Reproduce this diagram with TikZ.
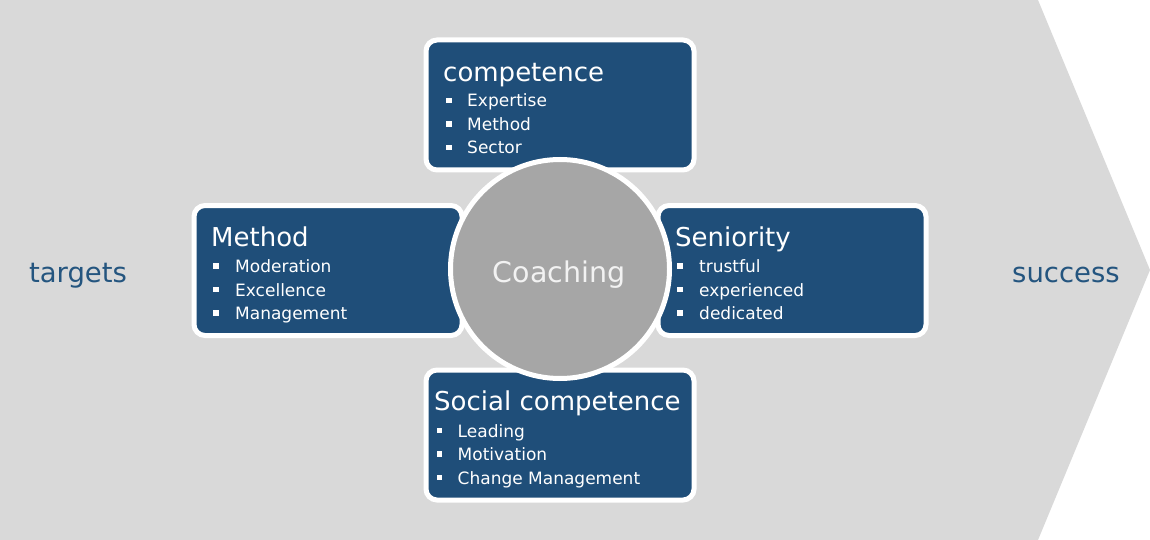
\documentclass[tikz,border=0pt]{standalone}
\usepackage{fontspec}
\setmainfont{DejaVu Sans}
\definecolor{bgGray}{HTML}{D9D9D9}
\definecolor{boxBlue}{HTML}{1F4E79}
\definecolor{circGray}{HTML}{A6A6A6}
\definecolor{txtBlue}{HTML}{24557F}
\begin{document}
\begin{tikzpicture}[x=1pt,y=-1pt,
  card/.style={rectangle,rounded corners=11pt,fill=boxBlue,draw=white,line width=5pt,minimum width=268pt,minimum height=130pt,inner sep=0pt},
  hub/.style={circle,fill=circGray,draw=white,line width=5pt,minimum size=219pt,inner sep=0pt},
  ttl/.style={anchor=base west,inner sep=0pt,text=white,font=\fontsize{26}{30}\selectfont},
  itm/.style={anchor=base west,inner sep=0pt,text=white,font=\fontsize{17}{20}\selectfont},
  bul/.style={rectangle,fill=white,minimum size=5.5pt,inner sep=0pt},
  side/.style={anchor=base,inner sep=0pt,text=txtBlue,font=\fontsize{27.5}{32}\selectfont}
]
\useasboundingbox (0,0) rectangle (1150,540);
\fill[bgGray] (0,0) -- (1038,0) -- (1150,270) -- (1038,540) -- (0,540) -- cycle;

% cards
\node[card] (top) at (560,105) {};
\node[card] (left) at (328,270.5) {};
\node[card] (right) at (792,270.5) {};
\node[card] (bot) at (560,435) {};

% hub
\node[hub] (hub) at (560,269) {};
\node[anchor=base,inner sep=0pt,text=white!95!black,font=\fontsize{28.5}{32}\selectfont] (hubt) at (559,282) {Coaching};

% top card text
\node[ttl] (t0) at (443,82) {competence};
\node[bul] (tb1) at (449,100.5) {}; \node[itm] (t1) at (467,107) {Expertise};
\node[bul] (tb2) at (449,124) {};   \node[itm] (t2) at (467,130.5) {Method};
\node[bul] (tb3) at (449,147.5) {}; \node[itm] (t3) at (467,154) {Sector};

% left card text
\node[ttl] (l0) at (211,246) {Method};
\node[bul] (lb1) at (216,266) {};   \node[itm] (l1) at (235,272.5) {Moderation};
\node[bul] (lb2) at (216,289.5) {}; \node[itm] (l2) at (235,296) {Excellence};
\node[bul] (lb3) at (216,313) {};   \node[itm] (l3) at (235,319.5) {Management};

% right card text
\node[ttl] (r0) at (675,246) {Seniority};
\node[bul] (rb1) at (680,266) {};   \node[itm] (r1) at (699,272.5) {trustful};
\node[bul] (rb2) at (680,289.5) {}; \node[itm] (r2) at (699,296) {experienced};
\node[bul] (rb3) at (680,313) {};   \node[itm] (r3) at (699,319.5) {dedicated};

% bottom card text
\node[ttl] (b0) at (434,410.5) {Social competence};
\node[bul] (bb1) at (439.5,430.5) {}; \node[itm] (b1) at (457.5,437) {Leading};
\node[bul] (bb2) at (439.5,454) {};   \node[itm] (b2) at (457.5,460.5) {Motivation};
\node[bul] (bb3) at (439.5,477.5) {}; \node[itm] (b3) at (457.5,484) {Change Management};

% side labels
\node[side] (targets) at (78,282) {targets};
\node[side] (success) at (1066,282) {success};
\end{tikzpicture}
\end{document}
